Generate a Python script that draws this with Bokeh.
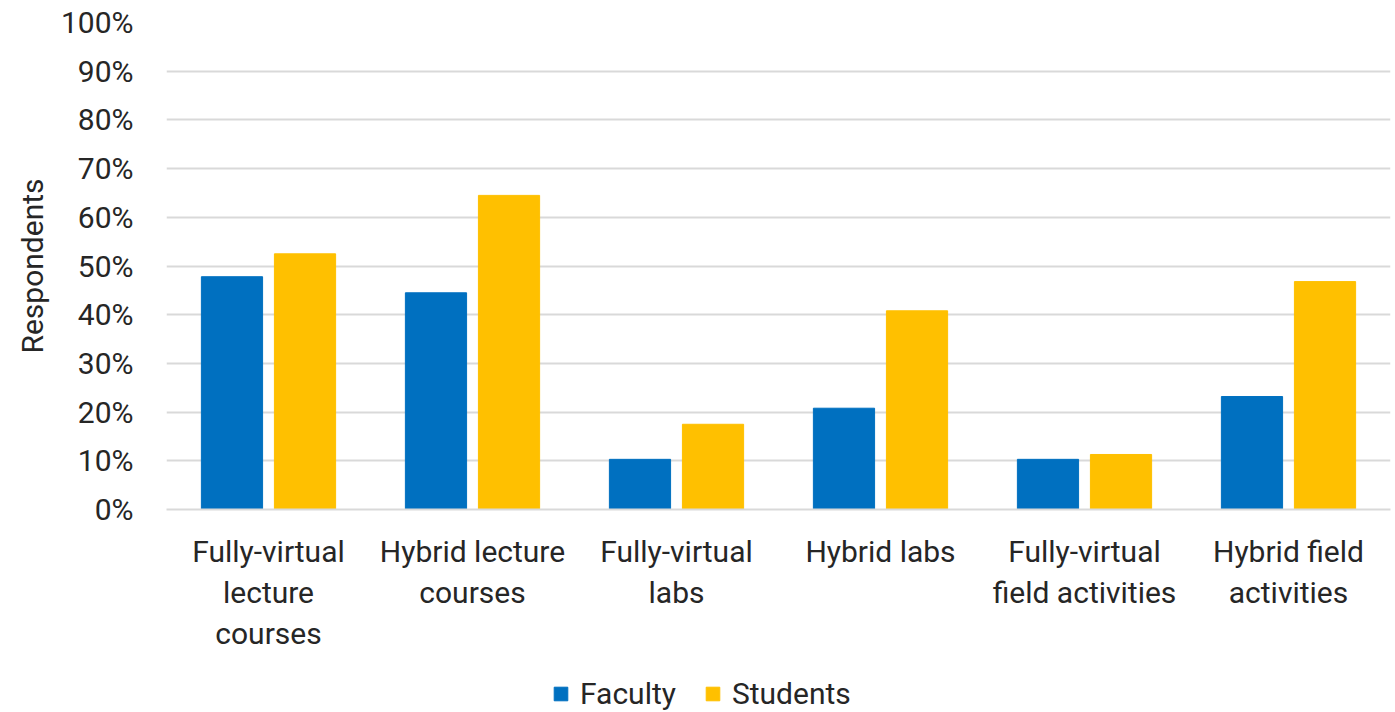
from bokeh.plotting import figure
from bokeh.layouts import column
from bokeh.models import ColumnDataSource, FactorRange, FixedTicker, NumeralTickFormatter, Legend, LegendItem
from bokeh.transform import dodge
from bokeh.embed import file_html
from bokeh.resources import INLINE

categories = ["Fully-virtual\nlecture\ncourses", "Hybrid lecture\ncourses", "Fully-virtual\nlabs",
              "Hybrid labs", "Fully-virtual\nfield activities", "Hybrid field\nactivities"]
faculty = [0.478, 0.445, 0.103, 0.208, 0.103, 0.232]
students = [0.525, 0.645, 0.175, 0.408, 0.113, 0.468]
y_ticks = [0.0, 0.1, 0.2, 0.3, 0.4, 0.5, 0.6, 0.7, 0.8, 0.9, 1.0]
series_names = ["Faculty", "Students"]

FONT = "Roboto"
TXT = "#262626"
BLUE = "#0070C0"
GOLD = "#FFC000"
W = 1392

src = ColumnDataSource(dict(cat=categories, faculty=faculty, students=students))

p = figure(x_range=FactorRange(*categories, range_padding=0), y_range=(0, 1.0),
           width=W, height=660, output_backend="svg", toolbar_location=None,
           min_border_left=166, min_border_right=W - 1390, min_border_top=22, min_border_bottom=151)
p.x_range.range_padding = 0

p.vbar(x=dodge("cat", -0.179, range=p.x_range), top="faculty", width=0.30, source=src,
       fill_color=BLUE, line_color=BLUE)
p.vbar(x=dodge("cat", 0.179, range=p.x_range), top="students", width=0.30, source=src,
       fill_color=GOLD, line_color=GOLD)

p.outline_line_color = None
p.xgrid.grid_line_color = None
p.ygrid.grid_line_color = "#D9D9D9"
p.ygrid.grid_line_width = 2

p.yaxis.ticker = FixedTicker(ticks=y_ticks)
p.yaxis.formatter = NumeralTickFormatter(format="0%")
p.yaxis.axis_line_color = None
p.yaxis.major_tick_line_color = None
p.yaxis.minor_tick_line_color = None
p.yaxis.major_label_text_font = FONT
p.yaxis.major_label_text_font_size = "30px"
p.yaxis.major_label_text_color = TXT
p.yaxis.major_label_standoff = 27
p.yaxis.axis_label = "Respondents"
p.yaxis.axis_label_text_font = FONT
p.yaxis.axis_label_text_font_size = "30px"
p.yaxis.axis_label_text_font_style = "normal"
p.yaxis.axis_label_text_color = TXT
p.yaxis.axis_label_standoff = 8

p.xaxis.axis_line_color = "#D9D9D9"
p.xaxis.axis_line_width = 2
p.xaxis.major_tick_line_color = None
p.xaxis.minor_tick_line_color = None
p.xaxis.major_label_text_font = FONT
p.xaxis.major_label_text_font_size = "30px"
p.xaxis.major_label_text_color = TXT
p.xaxis.major_label_text_line_height = 1.18
p.xaxis.major_label_standoff = 18

# legend strip
lg = figure(width=W, height=51, output_backend="svg", toolbar_location=None,
            x_axis_location=None, y_axis_location=None, x_range=(0, 1), y_range=(0, 1),
            min_border=0, min_border_left=0, min_border_right=0, min_border_top=0, min_border_bottom=0)
lg.outline_line_color = None
lg.grid.grid_line_color = None
r1 = lg.vbar(x=[-10], top=[0], width=0.1, fill_color=BLUE, line_color=BLUE)
r2 = lg.vbar(x=[-10], top=[0], width=0.1, fill_color=GOLD, line_color=GOLD)
legend = Legend(items=[LegendItem(label=series_names[0], renderers=[r1]),
                       LegendItem(label=series_names[1], renderers=[r2])],
                orientation="horizontal", location=(386, 0),
                label_text_font=FONT, label_text_font_size="30px", label_text_color=TXT,
                glyph_width=17, glyph_height=17, spacing=28, label_standoff=11,
                border_line_color=None, background_fill_alpha=0, padding=0, margin=0)
lg.add_layout(legend, "center")

open("out.html", "w").write(file_html(column(p, lg, spacing=0), INLINE))
